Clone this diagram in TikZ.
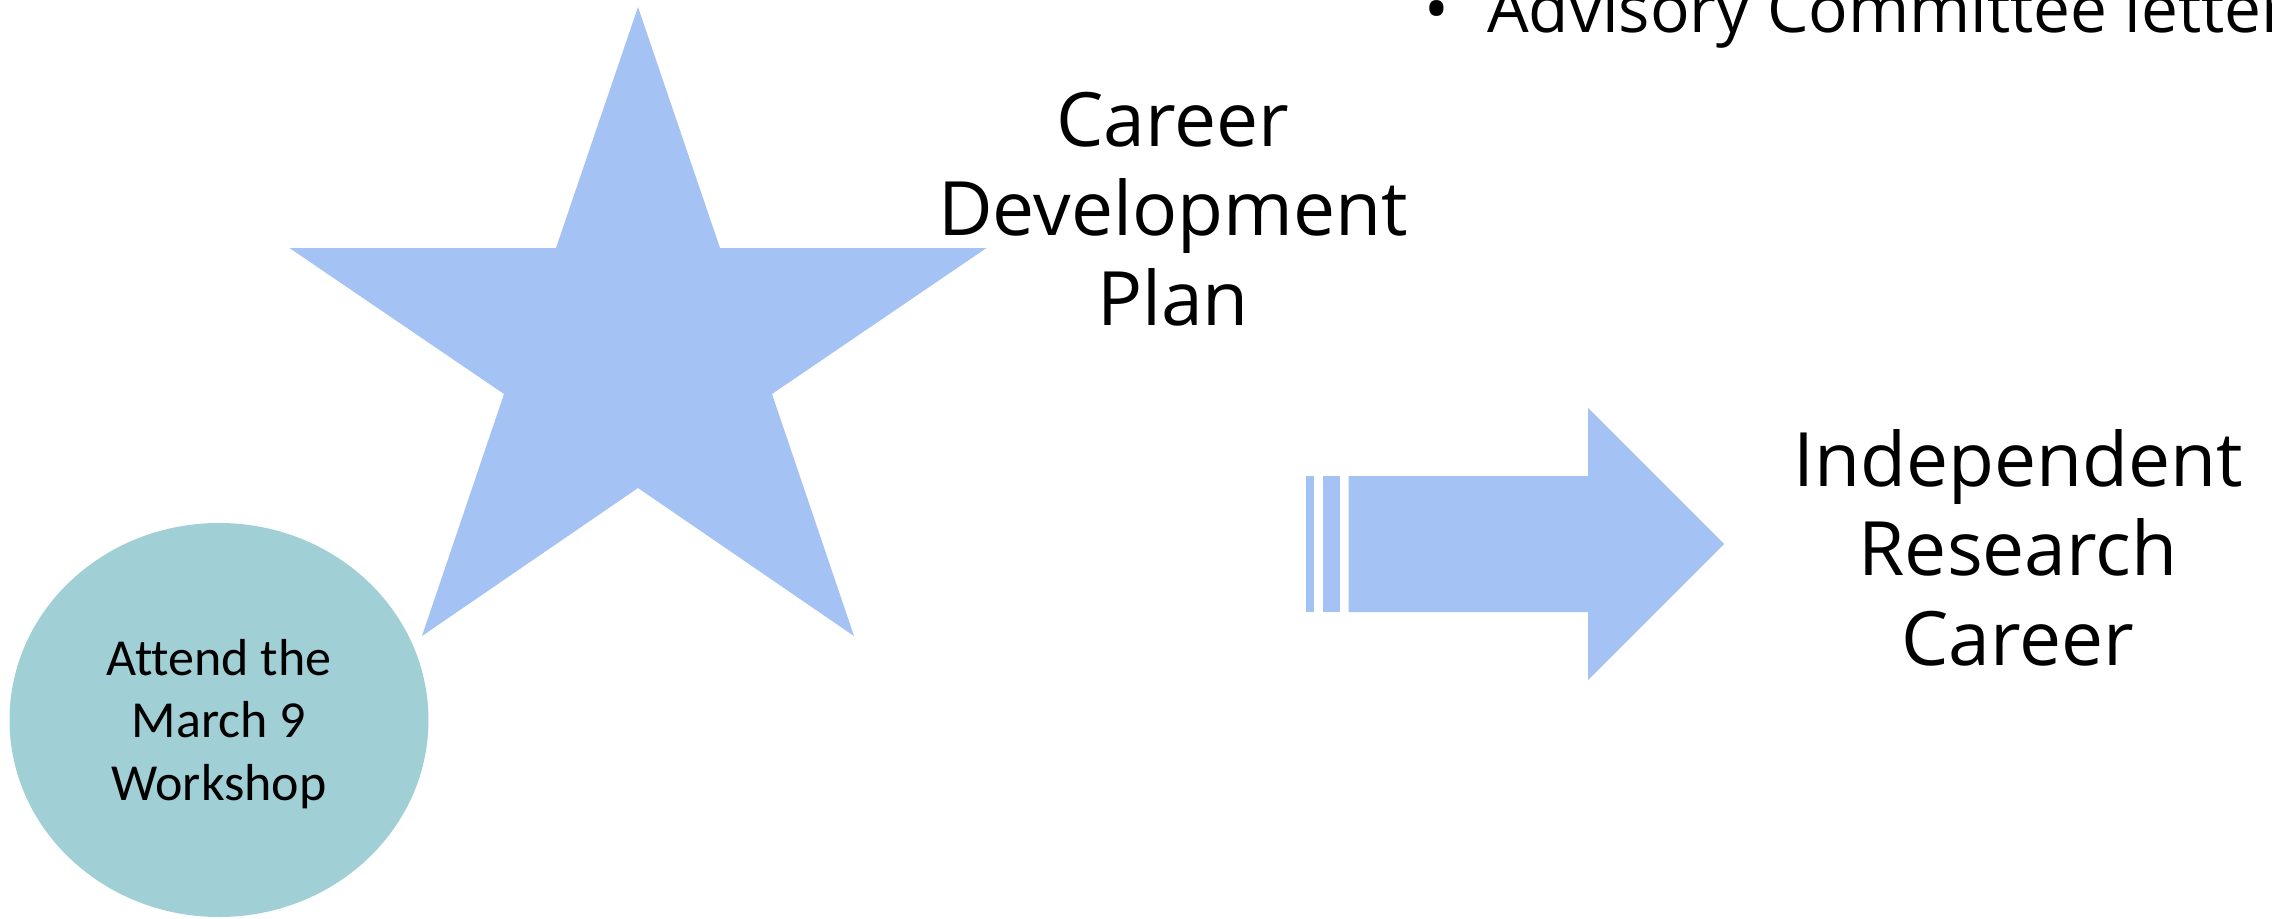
\documentclass[tikz,border=0pt]{standalone}
\usepackage{fontspec}
\setmainfont{Open Sans}
\newfontfamily\carl[Ligatures=NoCommon]{Carlito}
\usetikzlibrary{shapes.geometric}
\definecolor{starblue}{HTML}{A4C2F4}
\definecolor{circteal}{HTML}{A0CFD5}
\begin{document}
\begin{tikzpicture}[x=1pt,y=-1pt,
  shapefill/.style={fill=starblue, draw=none},
  bigtext/.style={font=\fontsize{75}{89.5}\selectfont, align=center, inner sep=0pt},
  circtext/.style={font=\carl\fontsize{52}{62.5}\selectfont, align=center, inner sep=0pt},
  bultext/.style={font=\fontsize{65.8}{78}\selectfont, inner sep=0pt}]
\useasboundingbox (0,0) rectangle (2272,918);
\clip (0,0) rectangle (2272,918);
\fill[white] (0,0) rectangle (2272,918);
% star
\fill[shapefill] (638,7) -- (720,248) -- (986.5,248) -- (772,394) -- (854,636)
  -- (638,488) -- (422,636) -- (504,394) -- (289.5,248) -- (556,248) -- cycle;
% striped arrow
\fill[shapefill] (1306,476) rectangle (1314,612);
\fill[shapefill] (1323,476) rectangle (1340,612);
\fill[shapefill] (1348.5,476) -- (1588,476) -- (1588,408) -- (1724,544)
  -- (1588,680) -- (1588,612) -- (1348.5,612) -- cycle;
% circle
\node[ellipse, fill=circteal, minimum width=419pt, minimum height=394pt, inner sep=0pt] (ws) at (219,720) {};
\node[circtext, anchor=base] (wst) at (219,800) {Attend the\\March 9\\Workshop};
% texts
\node[bigtext, anchor=base] (cdp) at (1173,325) {Career\\Development\\Plan};
\node[bigtext, anchor=base] (irc) at (2018,665) {Independent\\Research\\Career};
\node[bultext, anchor=base west] (adv) at (1487,32) {Advisory Committee letter};
\node[bultext, anchor=base] (bul) at (1437,32) {•};
\end{tikzpicture}
\end{document}
